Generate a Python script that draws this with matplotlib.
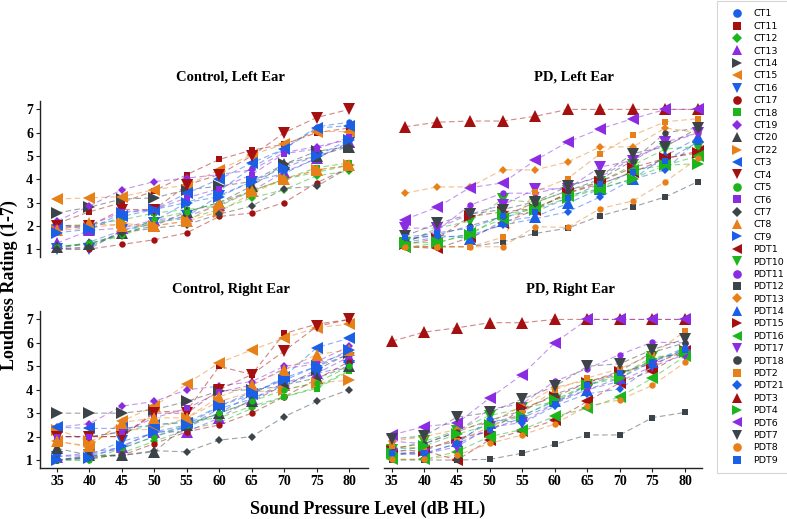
import matplotlib
matplotlib.use('Agg')
import matplotlib.pyplot as plt
from matplotlib.lines import Line2D

levels = [35, 40, 45, 50, 55, 60, 65, 70, 75, 80]

subjects = ['CT1', 'CT11', 'CT12', 'CT13', 'CT14', 'CT15', 'CT16', 'CT17', 'CT18', 'CT19',
            'CT20', 'CT22', 'CT3', 'CT4', 'CT5', 'CT6', 'CT7', 'CT8', 'CT9',
            'PDT1', 'PDT10', 'PDT11', 'PDT12', 'PDT13', 'PDT14', 'PDT15', 'PDT16', 'PDT17',
            'PDT18', 'PDT2', 'PDT21', 'PDT3', 'PDT4', 'PDT6', 'PDT7', 'PDT8', 'PDT9']

palette = ['#1a5fe6', '#a50f0f', '#1cb51c', '#8b2be2', '#3d4449', '#e8801a']
marker_cycle = ['o', 's', 'D', '^', '>', '<', 'v']

ctrl_left = {
    'CT1':  [1.0, 1.3, 1.8, 2.2, 3.0, 3.5, 4.5, 5.3, 6.25, 6.45],
    'CT11': [2.1, 2.6, 3.0, 3.5, 4.2, 4.85, 5.25, 5.5, 6.0, 6.2],
    'CT12': [1.1, 1.25, 1.55, 2.2, 2.3, 2.7, 3.2, 3.55, 4.15, 4.35],
    'CT13': [1.25, 1.8, 1.9, 2.25, 2.4, 2.9, 3.5, 4.3, 4.9, 5.6],
    'CT14': [2.55, 2.8, 3.15, 3.2, 3.55, 3.7, 3.9, 4.65, 5.2, 5.4],
    'CT15': [3.15, 3.2, 3.25, 3.55, 3.75, 4.4, 5.05, 5.5, 6.05, 6.05],
    'CT16': [1.0, 1.0, 1.8, 2.1, 2.4, 3.3, 3.9, 4.25, 4.9, 5.55],
    'CT17': [1.0, 1.0, 1.2, 1.4, 1.7, 2.4, 2.55, 3.0, 3.85, 4.5],
    'CT18': [2.0, 2.05, 2.25, 2.55, 2.7, 2.85, 3.5, 4.0, 4.5, 4.7],
    'CT19': [2.2, 2.85, 3.55, 3.9, 4.05, 4.2, 4.4, 5.15, 5.4, 5.7],
    'CT20': [1.1, 1.2, 1.7, 2.0, 2.6, 3.0, 3.7, 4.65, 5.0, 5.4],
    'CT22': [1.8, 1.9, 2.1, 2.0, 2.2, 2.6, 3.4, 4.0, 4.4, 4.6],
    'CT3':  [2.05, 1.85, 2.4, 2.7, 3.4, 4.0, 4.7, 5.3, 6.2, 6.3],
    'CT4':  [2.0, 2.0, 2.7, 2.7, 3.75, 4.2, 5.0, 6.0, 6.65, 7.0],
    'CT5':  [1.1, 1.25, 1.6, 2.3, 2.6, 3.0, 3.5, 4.0, 4.3, 4.6],
    'CT6':  [1.9, 2.0, 2.6, 2.7, 3.2, 3.6, 4.2, 5.1, 5.3, 5.8],
    'CT7':  [1.0, 1.1, 1.7, 1.9, 2.05, 2.5, 2.85, 3.6, 3.7, 4.5],
    'CT8':  [1.8, 2.1, 2.0, 2.0, 2.2, 3.0, 3.5, 4.0, 4.4, 4.6],
    'CT9':  [1.7, 1.85, 2.55, 2.7, 3.0, 3.25, 3.9, 4.5, 5.0, 5.7],
}

ctrl_right = {
    'CT1':  [1.0, 1.2, 1.5, 2.0, 2.4, 3.0, 3.8, 4.5, 5.0, 5.5],
    'CT11': [2.0, 2.0, 2.0, 3.05, 3.1, 5.0, 4.65, 6.4, 6.8, 7.0],
    'CT12': [1.0, 1.0, 1.3, 1.8, 2.3, 2.6, 3.2, 3.7, 4.1, 4.85],
    'CT13': [1.15, 1.3, 1.55, 2.2, 2.2, 2.8, 3.6, 4.3, 4.7, 5.4],
    'CT14': [3.0, 3.0, 3.0, 3.15, 3.5, 3.95, 4.0, 4.15, 4.85, 5.55],
    'CT15': [1.8, 1.55, 2.65, 3.3, 4.25, 5.15, 5.7, 6.2, 6.65, 6.8],
    'CT16': [1.15, 1.2, 1.8, 2.15, 2.4, 3.2, 3.6, 4.2, 4.7, 5.0],
    'CT17': [1.0, 1.15, 1.2, 1.7, 2.2, 2.5, 3.0, 3.7, 4.45, 5.2],
    'CT18': [2.0, 2.0, 2.2, 2.5, 2.65, 2.8, 3.3, 3.7, 4.05, 4.8],
    'CT19': [2.4, 2.55, 3.3, 3.5, 4.0, 4.15, 4.35, 5.0, 5.2, 5.85],
    'CT20': [1.5, 1.2, 1.2, 1.35, 2.5, 3.0, 3.5, 4.2, 4.5, 5.0],
    'CT22': [2.3, 1.8, 2.3, 2.3, 2.8, 3.5, 3.9, 4.0, 4.3, 4.4],
    'CT3':  [2.4, 2.35, 2.35, 2.5, 2.6, 3.3, 3.8, 4.55, 5.8, 6.2],
    'CT4':  [2.0, 2.0, 2.0, 3.0, 3.0, 4.0, 4.65, 5.65, 6.7, 7.0],
    'CT5':  [1.0, 1.0, 1.5, 2.0, 2.5, 3.0, 3.5, 4.0, 4.3, 5.0],
    'CT6':  [2.0, 2.0, 2.2, 2.8, 3.2, 3.9, 4.2, 4.9, 5.1, 5.6],
    'CT7':  [1.0, 1.1, 1.2, 1.4, 1.35, 1.85, 2.0, 2.85, 3.5, 4.0],
    'CT8':  [1.8, 1.6, 2.6, 2.8, 2.8, 3.7, 4.2, 4.85, 5.5, 5.7],
    'CT9':  [1.0, 1.1, 1.6, 2.2, 2.5, 3.3, 3.9, 4.4, 5.0, 5.7],
}

pd_left = {
    'PDT1':  [1.1, 1.03, 1.5, 2.1, 2.7, 3.4, 3.8, 4.3, 4.9, 5.2],
    'PDT10': [1.25, 1.9, 2.2, 3.13, 3.0, 3.5, 3.9, 4.6, 5.3, 5.4],
    'PDT11': [1.3, 1.8, 2.89, 3.4, 3.4, 3.7, 4.1, 4.9, 5.5, 6.0],
    'PDT12': [1.1, 1.1, 1.1, 1.31, 1.67, 1.9, 2.43, 2.81, 3.24, 3.9],
    'PDT13': [3.4, 3.67, 3.67, 4.4, 4.4, 4.74, 5.39, 5.39, 6.2, 6.0],
    'PDT14': [1.45, 1.6, 1.45, 2.2, 2.39, 2.96, 3.6, 4.0, 5.0, 5.8],
    'PDT15': [1.2, 1.45, 2.4, 2.6, 2.74, 3.4, 3.9, 4.5, 4.9, 5.13],
    'PDT16': [1.07, 1.25, 1.7, 2.3, 2.8, 3.3, 3.6, 4.4, 4.6, 5.0],
    'PDT17': [1.9, 1.9, 2.5, 2.89, 3.57, 3.6, 4.53, 4.8, 5.6, 6.0],
    'PDT18': [1.4, 1.6, 2.0, 2.4, 3.0, 3.5, 4.0, 4.8, 6.0, 6.2],
    'PDT2':  [1.1, 1.1, 1.1, 1.5, 3.47, 4.03, 5.1, 5.89, 6.47, 6.6],
    'PDT21': [1.3, 1.5, 1.6, 2.03, 2.3, 2.6, 3.24, 4.0, 4.4, 5.7],
    'PDT3':  [6.25, 6.45, 6.5, 6.5, 6.7, 7.0, 7.0, 7.0, 7.0, 7.0],
    'PDT4':  [1.25, 1.3, 1.6, 2.5, 2.7, 3.2, 3.6, 4.03, 4.6, 4.67],
    'PDT6':  [2.27, 2.8, 3.64, 3.84, 4.81, 5.6, 6.17, 6.6, 7.0, 7.0],
    'PDT7':  [1.56, 2.1, 2.5, 2.7, 3.03, 3.7, 4.13, 5.1, 5.4, 6.2],
    'PDT8':  [1.1, 1.1, 1.1, 1.1, 1.96, 1.93, 2.74, 3.07, 3.9, 4.9],
    'PDT9':  [1.5, 1.7, 1.9, 2.4, 2.6, 3.2, 3.8, 4.3, 4.8, 5.6],
}

pd_right = {
    'PDT1':  [1.2, 1.4, 1.0, 1.86, 2.24, 2.7, 3.5, 4.3, 4.81, 5.64],
    'PDT10': [1.43, 1.8, 2.26, 2.9, 3.2, 3.5, 4.2, 4.6, 5.4, 5.5],
    'PDT11': [1.8, 1.7, 2.2, 3.17, 3.4, 4.36, 4.9, 5.5, 6.03, 6.0],
    'PDT12': [1.0, 1.0, 1.0, 1.03, 1.29, 1.67, 2.07, 2.07, 2.81, 3.03],
    'PDT13': [1.8, 2.0, 2.3, 2.6, 3.3, 4.1, 4.4, 4.6, 5.3, 5.6],
    'PDT14': [1.5, 1.5, 1.8, 2.6, 2.9, 3.5, 4.0, 4.5, 5.2, 5.8],
    'PDT15': [1.4, 1.4, 1.93, 2.2, 3.21, 3.7, 4.3, 4.74, 5.1, 5.64],
    'PDT16': [1.03, 1.03, 1.36, 2.0, 2.3, 2.86, 3.21, 3.7, 4.5, 5.43],
    'PDT17': [1.26, 1.26, 1.57, 2.4, 2.6, 3.4, 4.0, 4.36, 5.0, 5.5],
    'PDT18': [1.5, 1.7, 2.2, 2.7, 3.1, 3.8, 4.3, 4.8, 5.6, 6.0],
    'PDT2':  [1.6, 1.5, 1.8, 2.4, 3.0, 4.0, 4.5, 4.9, 5.5, 6.5],
    'PDT21': [1.26, 1.26, 1.71, 2.74, 2.57, 3.3, 3.83, 4.03, 5.0, 5.8],
    'PDT3':  [6.07, 6.46, 6.64, 6.86, 6.86, 7.0, 7.0, 7.0, 7.0, 7.0],
    'PDT4':  [1.3, 1.6, 2.1, 2.5, 2.86, 3.57, 4.21, 4.5, 5.31, 5.6],
    'PDT6':  [2.07, 2.43, 2.57, 3.64, 4.64, 6.0, 7.0, 7.0, 7.0, 7.0],
    'PDT7':  [1.9, 2.03, 2.83, 3.03, 3.6, 4.14, 5.0, 5.11, 5.71, 6.17],
    'PDT8':  [1.03, 1.03, 1.21, 1.71, 2.07, 2.54, 3.3, 3.57, 4.19, 5.17],
    'PDT9':  [1.3, 1.3, 1.7, 2.3, 2.8, 3.4, 4.2, 4.7, 5.2, 5.7],
}

panel_titles = ['Control, Left Ear', 'PD, Left Ear', 'Control, Right Ear', 'PD, Right Ear']
y_ticks = [1, 2, 3, 4, 5, 6, 7]

W, H = 787, 519
fig = plt.figure(figsize=(W / 100, H / 100), dpi=100)
SERIF = 'Liberation Serif'


def ax_px(l, t, r, b):
    return fig.add_axes([l / W, 1 - b / H, (r - l) / W, (b - t) / H])


ax_tl = ax_px(40, 101, 368, 257)
ax_tr = ax_px(397, 101, 715, 257)
ax_bl = ax_px(40, 311, 368, 468)
ax_br = ax_px(384, 311, 702, 468)

plot_ms = {'o': 4.6, 's': 4.2, 'D': 4.4, '^': 8, 'v': 8, '<': 8, '>': 8}
legend_ms = {'o': 6.2, 's': 5.6, 'D': 5.4, '^': 7.2, 'v': 7.2, '<': 7.2, '>': 7.2}


def style(i):
    return palette[i % 6], marker_cycle[i % 7]


def draw(ax, data):
    for i, name in enumerate(subjects):
        if name not in data:
            continue
        c, m = style(i)
        ax.plot(levels, data[name], ls=(0, (5, 3)), lw=0.8, color=c, alpha=0.5, zorder=1)
    for i, name in enumerate(subjects):
        if name not in data:
            continue
        c, m = style(i)
        ax.plot(levels, data[name], ls='none', marker=m, ms=plot_ms[m], color=c,
                markeredgewidth=0, zorder=2)


for ax, data in [(ax_tl, ctrl_left), (ax_tr, pd_left), (ax_bl, ctrl_right), (ax_br, pd_right)]:
    draw(ax, data)
    ax.set_ylim(0.66, 7.36)
    ax.set_yticks(y_ticks)
    ax.set_xticks(levels)
    for s in ['top', 'right']:
        ax.spines[s].set_visible(False)
    ax.tick_params(direction='out', length=3, width=0.8, colors='#222222', pad=2)
    for lab in ax.get_xticklabels() + ax.get_yticklabels():
        lab.set_fontfamily(SERIF)
        lab.set_fontweight('bold')
        lab.set_fontsize(10)
        lab.set_color('black')

ax_tl.set_xlim(32.4, 82.9)
ax_bl.set_xlim(32.4, 82.9)
ax_tr.set_xlim(33.8, 82.6)
ax_br.set_xlim(33.8, 82.6)

for ax in [ax_tl, ax_tr]:
    ax.spines['bottom'].set_visible(False)
    ax.tick_params(axis='x', bottom=False, labelbottom=False)
for ax in [ax_tr, ax_br]:
    ax.spines['left'].set_visible(False)
    ax.tick_params(axis='y', left=False, labelleft=False)
for ax in [ax_tl, ax_bl, ax_br]:
    for s in ['left', 'bottom']:
        ax.spines[s].set_linewidth(1.0)
        ax.spines[s].set_color('#222222')

title_pos = [(230, 77), (574, 77), (231, 290), (570, 290)]
for t, (x, y) in zip(panel_titles, title_pos):
    fig.text(x / W, 1 - y / H, t, ha='center', va='center', family=SERIF,
             weight='bold', fontsize=10.5)

fig.text(368 / W, 1 - 509 / H, 'Sound Pressure Level (dB HL)', ha='center', va='center',
         family=SERIF, weight='bold', fontsize=13)
fig.text(9 / W, 1 - 285 / H, 'Loudness Rating (1-7)', ha='center', va='center',
         rotation=90, family=SERIF, weight='bold', fontsize=13)

handles = []
for i, name in enumerate(subjects):
    c, m = style(i)
    handles.append(Line2D([], [], ls='none', marker=m, ms=legend_ms[m], color=c,
                          markeredgewidth=0))
leg = fig.legend(handles, subjects, loc='upper left', bbox_to_anchor=(717 / W, 1 - 1 / H),
                 frameon=True, fancybox=False, labelspacing=0.36,
                 handlelength=2.47, handletextpad=0.46, borderpad=0.9, borderaxespad=0,
                 prop={'family': 'DejaVu Sans', 'size': 6.8})
leg.get_frame().set_edgecolor('#cccccc')
leg.get_frame().set_linewidth(0.8)

fig.savefig('out.png', dpi=100)
